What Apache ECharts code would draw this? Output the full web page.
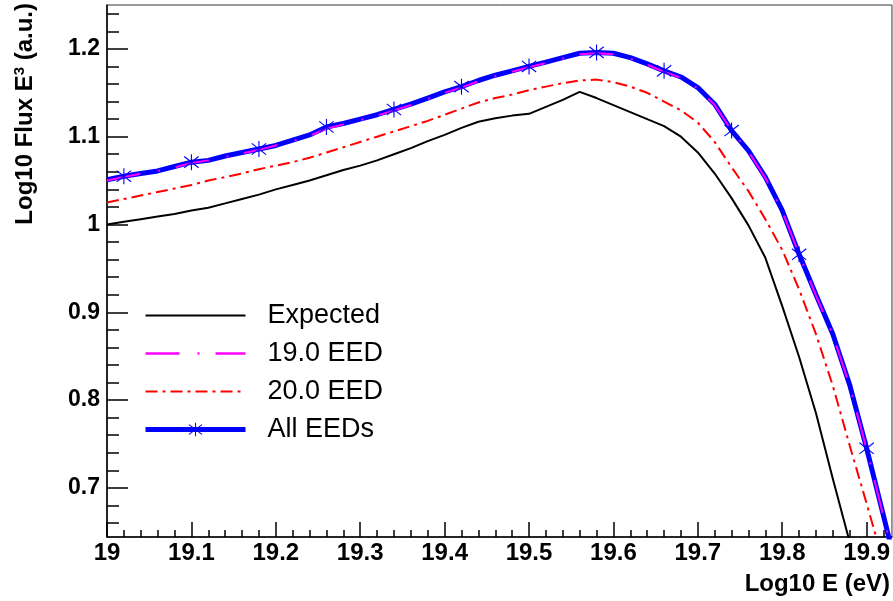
<!DOCTYPE html>
<html>
<head>
<meta charset="utf-8">
<script src="https://cdn.jsdelivr.net/npm/echarts@6/dist/echarts.min.js"></script>
<style>
html, body { margin: 0; padding: 0; background: #fff; }
#chart { width: 893px; height: 601px; }
</style>
</head>
<body>
<div id="chart"></div>
<script>
// bin centres (log10 E)
var energy = [19.00, 19.02, 19.04, 19.06, 19.08, 19.10, 19.12, 19.14, 19.16, 19.18,
              19.20, 19.22, 19.24, 19.26, 19.28, 19.30, 19.32, 19.34, 19.36, 19.38,
              19.40, 19.42, 19.44, 19.46, 19.48, 19.50, 19.52, 19.54, 19.56, 19.58,
              19.60, 19.62, 19.64, 19.66, 19.68, 19.70, 19.72, 19.74, 19.76, 19.78,
              19.80, 19.82, 19.84, 19.86, 19.88, 19.90, 19.92, 19.94];

var expected = [1.000, 1.003, 1.006, 1.009, 1.012, 1.016, 1.019, 1.024, 1.029, 1.034,
                1.040, 1.045, 1.050, 1.056, 1.062, 1.067, 1.073, 1.080, 1.087, 1.095,
                1.102, 1.110, 1.117, 1.121, 1.124, 1.126, 1.134, 1.142, 1.151, 1.144,
                1.136, 1.128, 1.120, 1.112, 1.100, 1.082, 1.058, 1.030, 0.999, 0.962,
                0.907, 0.849, 0.785, 0.710, 0.638, null, null, null];

var eed190 = [1.050, 1.054, 1.058, 1.061, 1.065, 1.070, 1.073, 1.077, 1.081, 1.085,
              1.090, 1.095, 1.101, 1.109, 1.114, 1.119, 1.124, 1.130, 1.136, 1.143,
              1.150, 1.156, 1.163, 1.169, 1.174, 1.179, 1.184, 1.189, 1.194, 1.195,
              1.194, 1.189, 1.182, 1.174, 1.167, 1.155, 1.136, 1.107, 1.083, 1.053,
              1.015, 0.966, 0.919, 0.874, 0.816, 0.744, 0.667, 0.590];

var eed200 = [1.025, 1.029, 1.033, 1.037, 1.041, 1.045, 1.050, 1.054, 1.058, 1.063,
              1.067, 1.071, 1.076, 1.082, 1.088, 1.094, 1.100, 1.106, 1.112, 1.118,
              1.125, 1.132, 1.139, 1.144, 1.148, 1.153, 1.157, 1.161, 1.164, 1.165,
              1.162, 1.157, 1.150, 1.140, 1.130, 1.116, 1.094, 1.065, 1.038, 1.006,
              0.971, 0.926, 0.875, 0.816, 0.748, 0.682, 0.615, null];

var allEeds = [1.051, 1.055, 1.058, 1.061, 1.066, 1.071, 1.073, 1.078, 1.082, 1.086,
               1.090, 1.096, 1.102, 1.111, 1.115, 1.120, 1.125, 1.131, 1.137, 1.144,
               1.151, 1.157, 1.164, 1.170, 1.175, 1.180, 1.185, 1.190, 1.195, 1.196,
               1.195, 1.190, 1.183, 1.175, 1.168, 1.156, 1.137, 1.107, 1.084, 1.054,
               1.016, 0.966, 0.920, 0.875, 0.817, 0.745, 0.668, 0.590];

// where the star markers sit on the "All EEDs" curve
var starX = [19.02, 19.10, 19.18, 19.26, 19.34, 19.42, 19.50, 19.58, 19.66, 19.74, 19.82, 19.90];

var xTicks = [19, 19.1, 19.2, 19.3, 19.4, 19.5, 19.6, 19.7, 19.8, 19.9];
var xMinorTicks = [19.02, 19.04, 19.06, 19.08, 19.12, 19.14, 19.16, 19.18, 19.22, 19.24, 19.26, 19.28,
                   19.32, 19.34, 19.36, 19.38, 19.42, 19.44, 19.46, 19.48, 19.52, 19.54, 19.56, 19.58,
                   19.62, 19.64, 19.66, 19.68, 19.72, 19.74, 19.76, 19.78, 19.82, 19.84, 19.86, 19.88,
                   19.92];
var yTicks = [0.7, 0.8, 0.9, 1, 1.1, 1.2];
var yMinorTicks = [0.66, 0.68, 0.72, 0.74, 0.76, 0.78, 0.82, 0.84, 0.86, 0.88, 0.92, 0.94, 0.96, 0.98,
                   1.02, 1.04, 1.06, 1.08, 1.12, 1.14, 1.16, 1.18, 1.22, 1.24];

var FONT = 'Liberation Sans';
var STAR = 'path://M9.3 0L10.7 0L10.7 20L9.3 20Z' +
           'M0.57 3.55L1.43 2.45L19.43 16.45L18.57 17.55Z' +
           'M0.57 16.45L18.57 2.45L19.43 3.55L1.43 17.55Z';

function pairs(xs, ys) {
    var out = [];
    for (var i = 0; i < xs.length; i++) {
        if (ys[i] != null) out.push([xs[i], ys[i]]);
    }
    return out;
}

function isStar(x) {
    for (var i = 0; i < starX.length; i++) {
        if (Math.abs(starX[i] - x) < 0.001) return true;
    }
    return false;
}

var myChart = echarts.init(document.getElementById('chart'));

var xMin = 19, xMax = 19.93, yMin = 0.644, yMax = 1.25;

var option = {
    animation: false,
    backgroundColor: '#fff',
    grid: {
        left: 107, right: 1, top: 5, bottom: 64,
        show: true, borderColor: '#333', borderWidth: 1
    },
    xAxis: [{
        type: 'value', min: xMin, max: xMax, position: 'bottom',
        axisLine: { show: true, onZero: false, lineStyle: { color: '#000', width: 1.5 } },
        axisTick: { show: true, inside: true, length: 15, customValues: xTicks, lineStyle: { color: '#000', width: 1.5 } },
        axisLabel: {
            customValues: xTicks, margin: 4,
            fontFamily: FONT, fontWeight: 'bold', fontSize: 24, color: '#000'
        },
        splitLine: { show: false }
    }, {
        type: 'value', min: xMin, max: xMax, position: 'bottom', offset: 0,
        axisLine: { show: false },
        axisTick: { show: true, inside: true, length: 7, customValues: xMinorTicks, lineStyle: { color: '#000', width: 1.5 } },
        axisLabel: { show: false },
        splitLine: { show: false }
    }],
    yAxis: [{
        type: 'value', min: yMin, max: yMax, position: 'left',
        axisLine: { show: true, onZero: false, lineStyle: { color: '#000', width: 1.5 } },
        axisTick: { show: true, inside: true, length: 21, customValues: yTicks, lineStyle: { color: '#000', width: 1.5 } },
        axisLabel: {
            customValues: yTicks, margin: 7,
            fontFamily: FONT, fontWeight: 'bold', fontSize: 23, color: '#000'
        },
        splitLine: { show: false }
    }, {
        type: 'value', min: yMin, max: yMax, position: 'left', offset: 0,
        axisLine: { show: false },
        axisTick: { show: true, inside: true, length: 12, customValues: yMinorTicks, lineStyle: { color: '#000', width: 1.5 } },
        axisLabel: { show: false },
        splitLine: { show: false }
    }],
    legend: {
        orient: 'vertical',
        left: 143, top: 302, padding: 0,
        itemWidth: 100, itemHeight: 17, itemGap: 11,
        textStyle: { fontFamily: FONT, fontSize: 27, color: '#000', padding: [0, 0, 0, 17] },
        data: [
            { name: 'Expected', itemStyle: { opacity: 0 }, lineStyle: { width: 2 } },
            { name: '19.0 EED', itemStyle: { opacity: 0 }, lineStyle: { width: 2.5 } },
            { name: '20.0 EED', itemStyle: { opacity: 0 }, lineStyle: { width: 2 } },
            { name: 'All EEDs', lineStyle: { width: 5 } }
        ]
    },
    graphic: [{
        type: 'text',
        x: 25, y: 3,
        rotation: Math.PI / 2,
        style: {
            text: '{t|Log10 Flux E}{s|3}{t| (a.u.)}',
            align: 'right', verticalAlign: 'middle',
            rich: {
                t: { fontFamily: FONT, fontWeight: 'bold', fontSize: 24, fill: '#000', lineHeight: 26 },
                s: { fontFamily: FONT, fontWeight: 'bold', fontSize: 15, fill: '#000', verticalAlign: 'top', lineHeight: 26 }
            }
        }
    }, {
        type: 'text',
        x: 890, y: 584,
        style: {
            text: 'Log10 E (eV)',
            align: 'right', verticalAlign: 'middle',
            fontFamily: FONT, fontWeight: 'bold', fontSize: 24, fill: '#000'
        }
    }],
    series: [{
        name: 'Expected', type: 'line',
        data: pairs(energy, expected),
        symbol: 'none', clip: true,
        lineStyle: { color: '#000', width: 2 },
        itemStyle: { color: '#000' }
    }, {
        name: '20.0 EED', type: 'line',
        data: pairs(energy, eed200),
        symbol: 'none', clip: true,
        lineStyle: { color: '#ff0000', width: 2, type: [12, 5, 3, 5] },
        itemStyle: { color: '#ff0000' }
    }, {
        name: 'All EEDs', type: 'line',
        data: pairs(energy, allEeds),
        symbol: STAR, symbolKeepAspect: true,
        showSymbol: true, showAllSymbol: true,
        symbolSize: function (val) { return isStar(val[0]) ? 16 : 0; },
        clip: true,
        lineStyle: { color: '#0000ff', width: 5 },
        itemStyle: { color: '#0000ff' }
    }, {
        name: '19.0 EED', type: 'line',
        data: pairs(energy, eed190),
        symbol: 'none', clip: true,
        lineStyle: { color: '#ff00ff', width: 2, type: [34, 18, 2, 16] },
        itemStyle: { color: '#ff00ff' }
    }]
};

myChart.setOption(option);
</script>
</body>
</html>
